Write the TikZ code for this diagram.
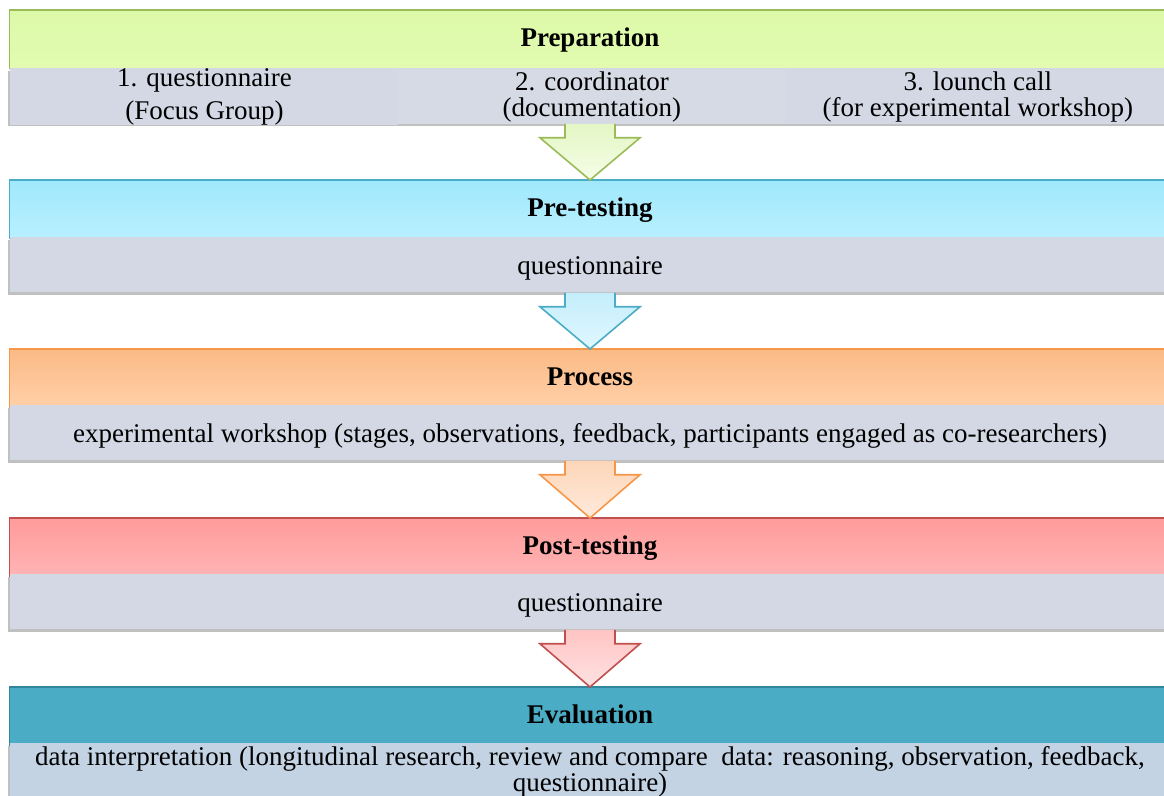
\documentclass[tikz,border=0pt]{standalone}
\usepackage{fontspec}
\setmainfont{Liberation Serif}
\usepackage{xcolor}
\usepackage{tikz}
\usetikzlibrary{calc}
\usetikzlibrary{shadows}

\definecolor{prepborder}{HTML}{9BBB59}
\definecolor{pretborder}{HTML}{4BACC6}
\definecolor{procborder}{HTML}{F79646}
\definecolor{postborder}{HTML}{C0504D}
\definecolor{evalborder}{HTML}{31859C}
\definecolor{preptop}{HTML}{DCF9A8}
\definecolor{prepbot}{HTML}{E2FBB0}
\definecolor{prettop}{HTML}{A0E8FC}
\definecolor{pretbot}{HTML}{B8F0FF}
\definecolor{proctop}{HTML}{FBBA86}
\definecolor{procbot}{HTML}{FFD0A8}
\definecolor{posttop}{HTML}{FF9B9B}
\definecolor{postbot}{HTML}{FFB4B4}
\definecolor{evalfill}{HTML}{4AACC5}
\definecolor{rowgray}{HTML}{D3D8E4}
\definecolor{rowgraytwo}{HTML}{D5DAE5}
\definecolor{evalgray}{HTML}{C3D3E4}
\definecolor{greenarrtop}{HTML}{E4F7C4}
\definecolor{greenarrbot}{HTML}{F5FDE8}
\definecolor{bluearrtop}{HTML}{C4EEFC}
\definecolor{bluearrbot}{HTML}{E0F7FF}
\definecolor{orangearrtop}{HTML}{FDD6B8}
\definecolor{orangearrbot}{HTML}{FFEADC}
\definecolor{redarrtop}{HTML}{FFC4C4}
\definecolor{redarrbot}{HTML}{FFE2E2}

% arrow between two stages: from, to, top colour, bottom colour, border
\newcommand{\stagearrow}[5]{%
	\draw[thick,#5,top color=#3,bottom color=#4,line join=miter]
		($(#1.south)+(-25,0)$) -- ($(#1.south)+(-25,14)$) -- ($(#1.south)+(-50,14)$)
		-- (#2.north) -- ($(#1.south)+(50,14)$) -- ($(#1.south)+(25,14)$) -- ($(#1.south)+(25,0)$);
}

\begin{document}
\begin{tikzpicture}[x=0.5pt,y=-0.5pt,
		head/.style={anchor=north,inner sep=0pt,minimum width=580pt,minimum height=29pt,
			text height=10.5pt,text depth=3pt,
			font=\fontsize{13.5}{16}\selectfont\bfseries},
		body/.style={anchor=north,inner sep=0pt,minimum width=580pt,minimum height=27.5pt,
			fill=rowgray,font=\fontsize{13.5}{13}\selectfont,align=center,
			drop shadow={shadow xshift=-0.8pt,shadow yshift=-1.5pt,opacity=0.35,fill=black!70}},
		onerow/.style={text height=12.5pt,text depth=3pt},
		cell/.style={anchor=north west,inner sep=0pt,minimum height=27.5pt,
			font=\fontsize{13.5}{13}\selectfont,align=center}]
		\clip (0,0) rectangle (1164,796);
		\fill[white] (0,0) rectangle (1164,796);

		% Preparation
		\node[head,top color=preptop,bottom color=prepbot] (prep) at (590,10) {Preparation};
		\draw[prepborder,thick] (prep.south west) -- (prep.north west) -- (prep.north east);
		\node[body] (prepbody) at (590,68) {};
		\node[cell,minimum width=194pt,fill=rowgray,font=\fontsize{13.5}{16.5}\selectfont] (prep1) at (10,68) {1. questionnaire\\ (Focus Group)};
		\node[cell,minimum width=193.5pt,fill=rowgraytwo] (prep2) at (398,69) {2. coordinator\\(documentation)};
		\node[cell,minimum width=192.5pt,fill=rowgray] (prep3) at (785,69) {3. lounch call\\(for experimental workshop)};

		% Pre-testing
		\node[head,top color=prettop,bottom color=pretbot] (pret) at (590,180) {Pre-testing};
		\draw[pretborder,thick] (pret.south west) -- (pret.north west) -- (pret.north east);
		\node[body,onerow] (pretbody) at (590,237) {questionnaire};

		% Process
		\node[head,top color=proctop,bottom color=procbot] (proc) at (590,349) {Process};
		\draw[procborder,thick] (proc.south west) -- (proc.north west) -- (proc.north east);
		\node[body,onerow] (procbody) at (590,405) {experimental workshop (stages, observations, feedback, participants engaged as co-researchers)};

		% Post-testing
		\node[head,top color=posttop,bottom color=postbot] (post) at (590,518) {Post-testing};
		\draw[postborder,thick] (post.south west) -- (post.north west) -- (post.north east);
		\node[body,onerow] (postbody) at (590,574) {questionnaire};

		% Evaluation
		\node[head,fill=evalfill] (eval) at (590,687) {Evaluation};
		\draw[evalborder,thick] (eval.south west) -- (eval.north west) -- (eval.north east);
		\node[body,fill=evalgray,minimum height=28pt] (evalbody) at (590,743) {data interpretation (longitudinal research, review and compare~ data: reasoning, observation, feedback,\\questionnaire)};

		% arrows
		\stagearrow{prepbody}{pret}{greenarrtop}{greenarrbot}{prepborder}
		\stagearrow{pretbody}{proc}{bluearrtop}{bluearrbot}{pretborder}
		\stagearrow{procbody}{post}{orangearrtop}{orangearrbot}{procborder}
		\stagearrow{postbody}{eval}{redarrtop}{redarrbot}{postborder}
	\end{tikzpicture}
\end{document}
